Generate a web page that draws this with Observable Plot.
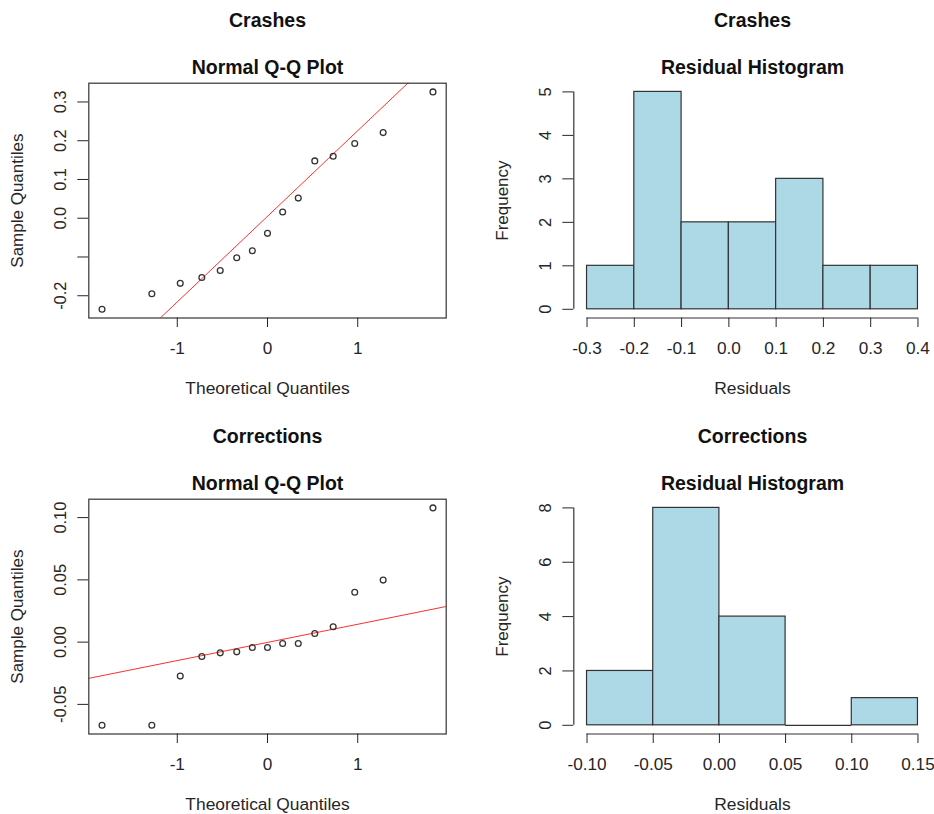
<!DOCTYPE html>
<html>
<head>
<meta charset="utf-8">
<script src="https://cdn.jsdelivr.net/npm/d3@7"></script>
<script src="https://cdn.jsdelivr.net/npm/@observablehq/plot@0.6"></script>
<style>
  body { margin: 0; background: #fff; }
  #chart { position: relative; width: 934px; height: 814px; background: #fff; overflow: hidden; }
  #chart svg { position: absolute; overflow: visible; }
</style>
</head>
<body>
<div id="chart"></div>
<script>
// Theoretical normal quantiles for the 15 observations
const theoretical = [-1.834, -1.282, -0.967, -0.728, -0.524, -0.341, -0.168, 0, 0.168, 0.341, 0.524, 0.728, 0.967, 1.282, 1.834];
const normalQuartiles = [-0.6745, 0.6745];

// Sorted model residuals
const crashResiduals = [-0.235, -0.195, -0.168, -0.153, -0.135, -0.102, -0.084, -0.039, 0.016, 0.052, 0.148, 0.160, 0.193, 0.221, 0.326];
const correctionResiduals = [-0.0668, -0.0668, -0.0273, -0.0115, -0.0086, -0.0078, -0.0043, -0.0043, -0.0011, -0.0011, 0.0069, 0.0123, 0.0401, 0.0498, 0.1078];

// Histogram breaks (also the x tick labels)
const crashBreaks = [-0.3, -0.2, -0.1, 0, 0.1, 0.2, 0.3, 0.4];
const crashBreakLabels = ["-0.3", "-0.2", "-0.1", "0.0", "0.1", "0.2", "0.3", "0.4"];
const correctionBreaks = [-0.10, -0.05, 0, 0.05, 0.10, 0.15];
const correctionBreakLabels = ["-0.10", "-0.05", "0.00", "0.05", "0.10", "0.15"];

// Axis ticks
const qqXTicks = [-1, 0, 1];
const qqXLabels = ["-1", "0", "1"];
const crashQQTicks = [-0.2, -0.1, 0, 0.1, 0.2, 0.3];
const crashQQLabels = ["-0.2", "", "0.0", "0.1", "0.2", "0.3"];
const correctionQQTicks = [-0.05, 0, 0.05, 0.10];
const correctionQQLabels = ["-0.05", "0.00", "0.05", "0.10"];
const crashFreqTicks = [0, 1, 2, 3, 4, 5];
const crashFreqLabels = ["0", "1", "2", "3", "4", "5"];
const correctionFreqTicks = [0, 2, 4, 6, 8];
const correctionFreqLabels = ["0", "2", "4", "6", "8"];

// Layout
const FRAME_W = 357.4, FRAME_H = 234.8;
const M_LEFT = 88.3, M_TOP = 82.7, M_BOTTOM = 90;
const INK = "#262626", LINE = "#333";
const FONT = '"Liberation Sans", Arial, Helvetica, sans-serif';

// R-style axis range: data range padded by 4% on each side
function padded([lo, hi]) {
  const d = (hi - lo) * 0.04;
  return [lo - d, hi + d];
}

function labeler(ticks, labels) {
  return (d) => labels[ticks.indexOf(d)];
}

function commonText(group, subtitle, xLabel, yLabel) {
  return [
    Plot.text([group], {text: (d) => d, frameAnchor: "top", dy: -62.8, textAnchor: "middle", lineAnchor: "middle", fontWeight: "bold", fontSize: 19.5, fill: "#111"}),
    Plot.text([subtitle], {text: (d) => d, frameAnchor: "top", dy: -15, textAnchor: "middle", lineAnchor: "middle", fontWeight: "bold", fontSize: 19.5, fill: "#111"}),
    Plot.text([xLabel], {text: (d) => d, frameAnchor: "bottom", dy: 70, textAnchor: "middle", lineAnchor: "middle", fontSize: 17.4, fill: INK}),
    Plot.text([yLabel], {text: (d) => d, frameAnchor: "left", dx: -71, rotate: -90, textAnchor: "middle", lineAnchor: "middle", fontSize: 17, fill: INK})
  ];
}

function panelOptions(width) {
  return {
    width,
    height: M_TOP + FRAME_H + M_BOTTOM,
    marginLeft: M_LEFT,
    marginRight: width - M_LEFT - FRAME_W,
    marginTop: M_TOP,
    marginBottom: M_BOTTOM,
    style: {fontFamily: FONT, fontSize: "17.2px", color: INK, background: "transparent", overflow: "visible"}
  };
}

function qqPanel(group, sample, yTicks, yLabels, width) {
  const points = theoretical.map((x, i) => ({x, y: sample[i]}));
  const xDomain = padded(d3.extent(theoretical));
  const yDomain = padded(d3.extent(sample));
  // Reference line through the first and third quartiles
  const q1 = d3.quantile(sample, 0.25), q3 = d3.quantile(sample, 0.75);
  const slope = (q3 - q1) / (normalQuartiles[1] - normalQuartiles[0]);
  const intercept = q1 - slope * normalQuartiles[0];
  const ref = xDomain.map((x) => ({x, y: intercept + slope * x}));
  return Plot.plot({
    ...panelOptions(width),
    x: {domain: xDomain},
    y: {domain: yDomain},
    marks: [
      Plot.line(ref, {x: "x", y: "y", stroke: "#ff3030", strokeWidth: 1, clip: true}),
      Plot.dot(points, {x: "x", y: "y", r: 2.9, stroke: LINE, strokeWidth: 1.3, fill: "none"}),
      Plot.frame({stroke: LINE, strokeWidth: 1.2}),
      Plot.axisX(qqXTicks, {tickSize: 9.5, tickPadding: 14.2, tickFormat: labeler(qqXTicks, qqXLabels), label: null, fontSize: 17.2}),
      Plot.axisY(yTicks, {tickSize: 11, tickPadding: 12, tickRotate: -90, tickFormat: labeler(yTicks, yLabels), label: null, fontSize: 16.4}),
      ...commonText(group, "Normal Q-Q Plot", "Theoretical Quantiles", "Sample Quantiles")
    ]
  });
}

function histPanel(group, values, breaks, breakLabels, freqTicks, freqLabels, width) {
  // Right-closed bins, first bin closed on both ends
  const bins = breaks.slice(0, -1).map((x0, i) => {
    const x1 = breaks[i + 1];
    const count = values.filter((v) => (v > x0 || (i === 0 && v >= x0)) && v <= x1).length;
    return {x0, x1, count};
  });
  const maxCount = d3.max(bins, (d) => d.count);
  const xDomain = padded(d3.extent(breaks));
  const yDomain = padded([0, maxCount]);
  return Plot.plot({
    ...panelOptions(width),
    x: {domain: xDomain},
    y: {domain: yDomain},
    marks: [
      Plot.rect(bins, {x1: "x0", x2: "x1", y1: 0, y2: "count", fill: "#add8e6", stroke: LINE, strokeWidth: 1.2}),
      Plot.ruleY(bins.filter((d) => d.count === 0), {x1: "x0", x2: "x1", y: 0, stroke: LINE, strokeWidth: 1.2}),
      Plot.ruleY([yDomain[0]], {x1: breaks[0], x2: breaks[breaks.length - 1], stroke: LINE, strokeWidth: 1.2}),
      Plot.ruleX([xDomain[0]], {y1: freqTicks[0], y2: freqTicks[freqTicks.length - 1], stroke: LINE, strokeWidth: 1.2}),
      Plot.axisX(breaks, {tickSize: 9.5, tickPadding: 14.2, tickFormat: labeler(breaks, breakLabels), label: null, fontSize: 17.2}),
      Plot.axisY(freqTicks, {tickSize: 11, tickPadding: 12, tickRotate: -90, tickFormat: labeler(freqTicks, freqLabels), label: null, fontSize: 16.4}),
      ...commonText(group, "Residual Histogram", "Residuals", "Frequency")
    ]
  });
}

const chart = document.getElementById("chart");
const panels = [
  {node: qqPanel("Crashes", crashResiduals, crashQQTicks, crashQQLabels, 467), left: 0, top: 0},
  {node: histPanel("Crashes", crashResiduals, crashBreaks, crashBreakLabels, crashFreqTicks, crashFreqLabels, 449.5), left: 484.5, top: 0},
  {node: qqPanel("Corrections", correctionResiduals, correctionQQTicks, correctionQQLabels, 467), left: 0, top: 415.6},
  {node: histPanel("Corrections", correctionResiduals, correctionBreaks, correctionBreakLabels, correctionFreqTicks, correctionFreqLabels, 449.5), left: 484.5, top: 415.6}
];
for (const {node, left, top} of panels) {
  node.style.left = left + "px";
  node.style.top = top + "px";
  node.style.maxWidth = "none";
  chart.appendChild(node);
}
</script>
</body>
</html>
